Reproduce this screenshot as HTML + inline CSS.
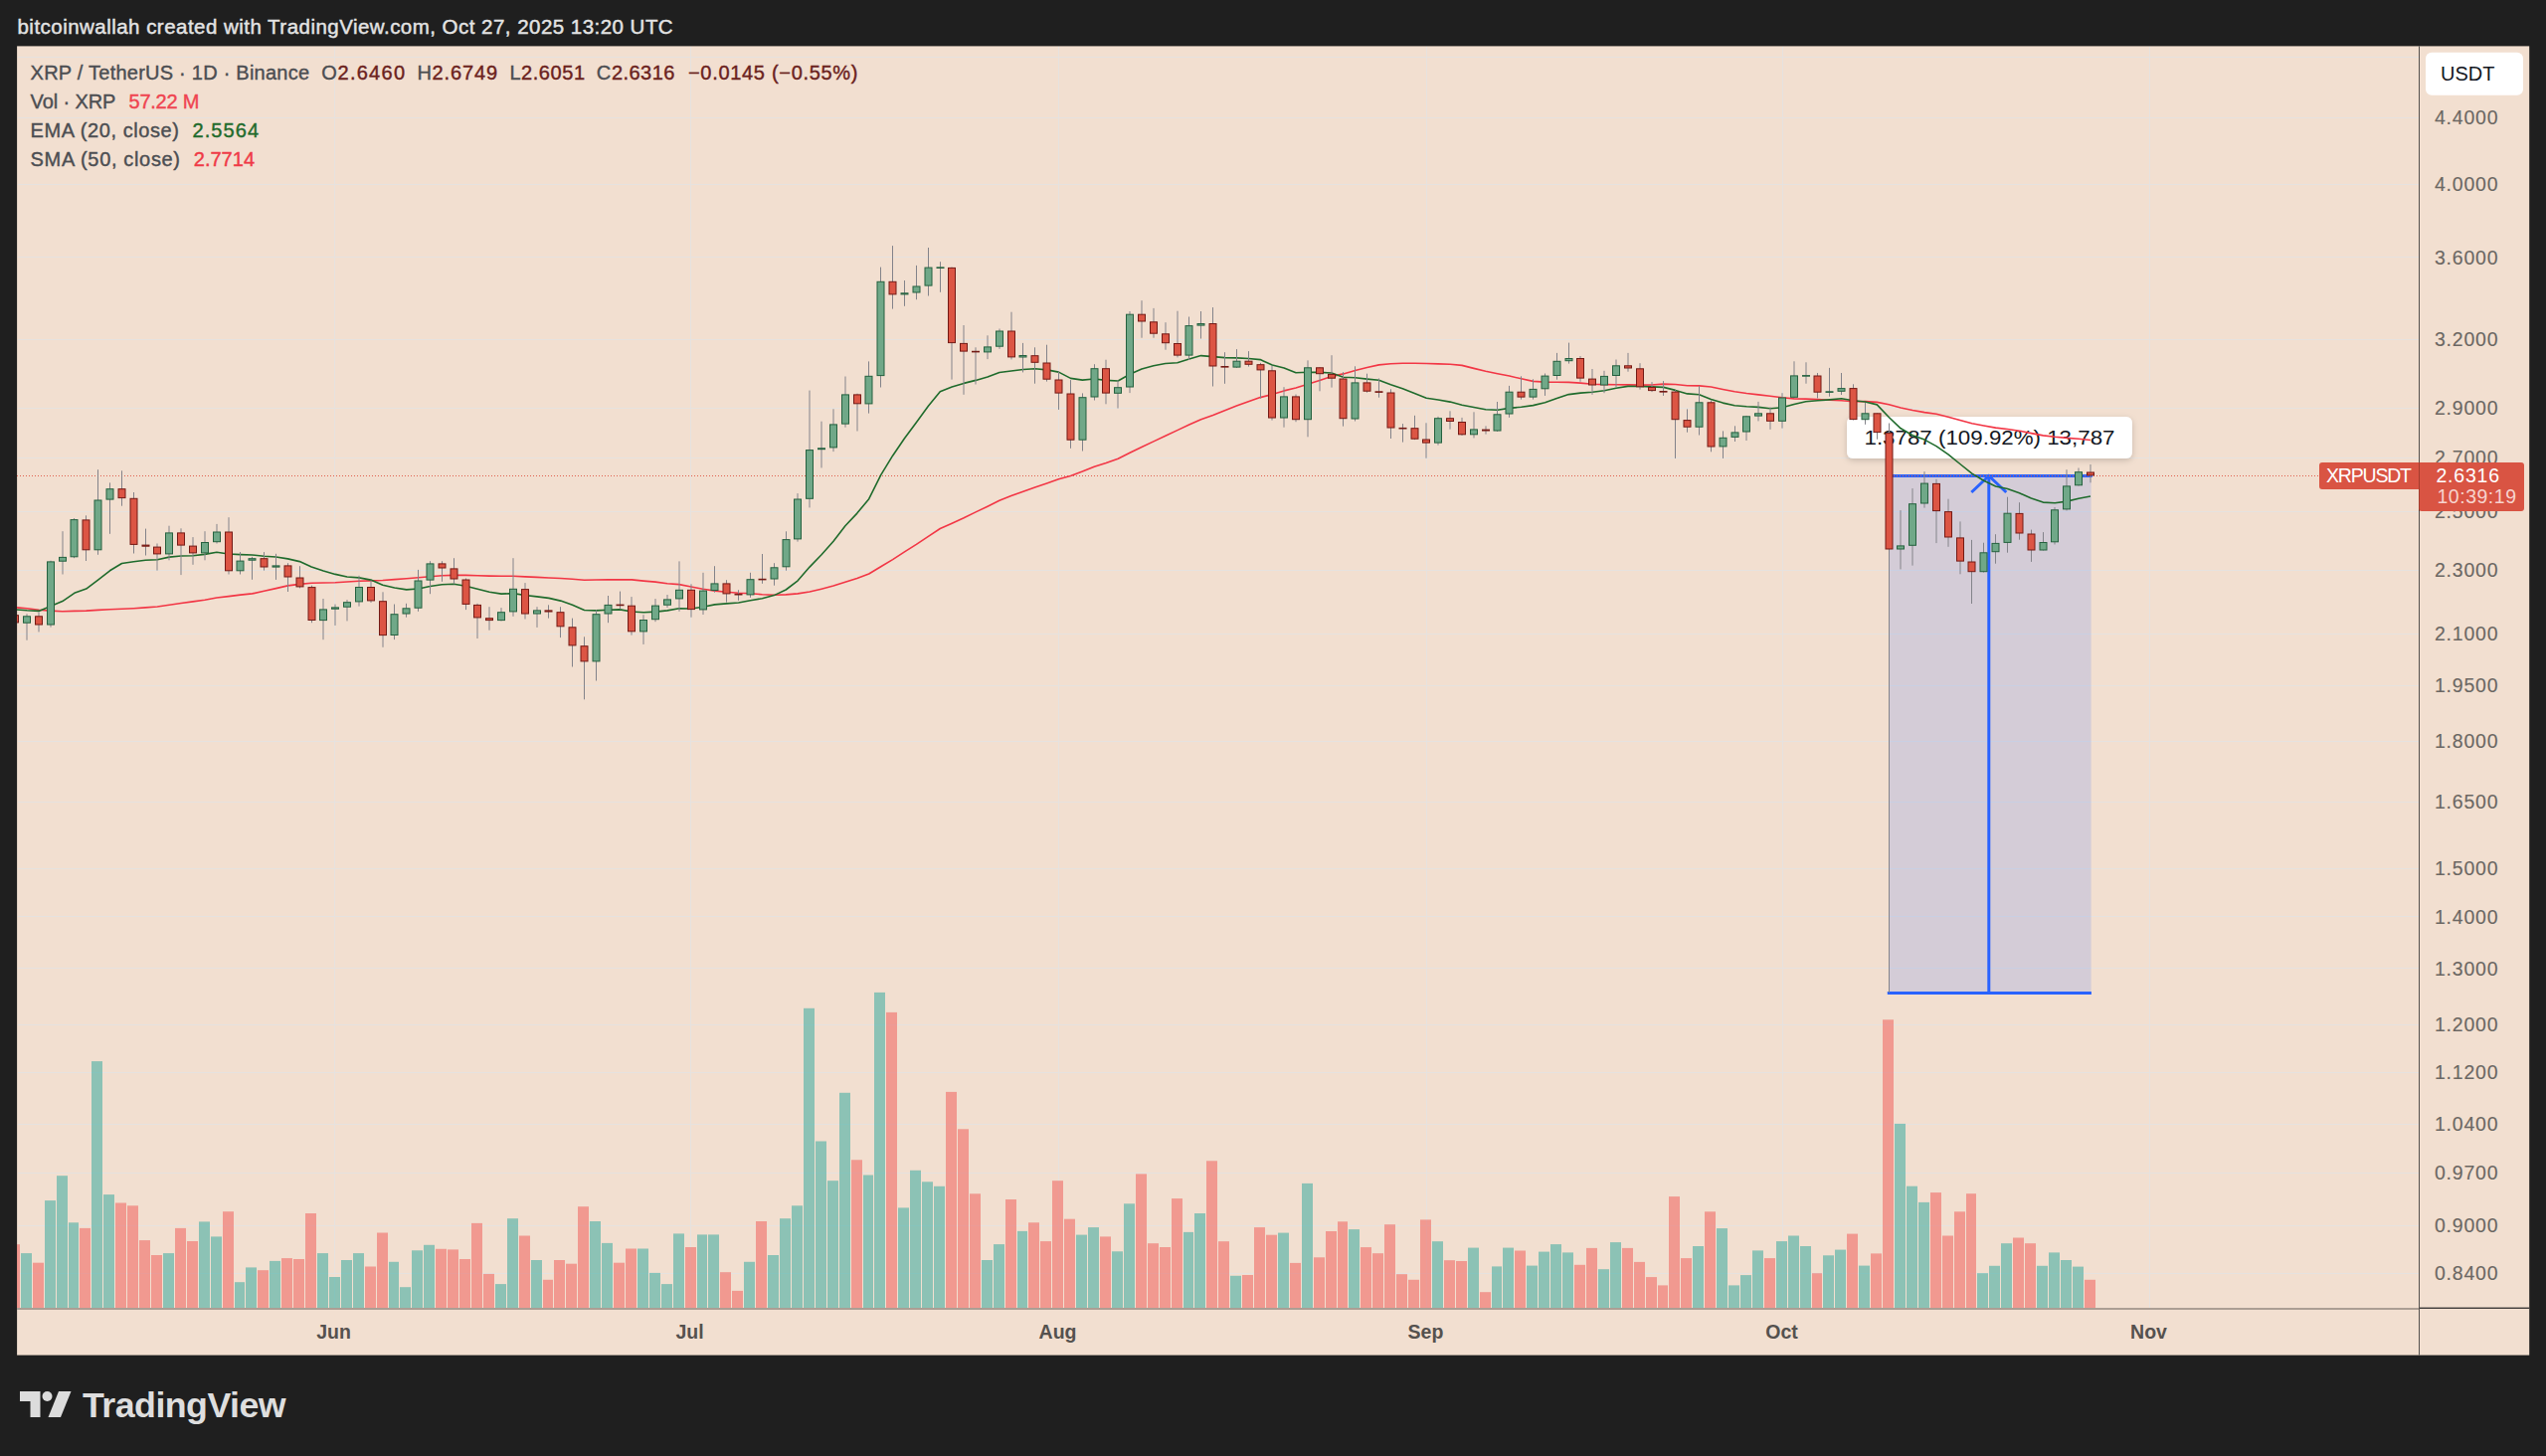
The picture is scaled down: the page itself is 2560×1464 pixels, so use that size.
<!DOCTYPE html>
<html><head><meta charset="utf-8"><title>XRP chart</title>
<style>
html,body{margin:0;padding:0;background:#1f1f1f;}
body{width:2560px;height:1464px;position:relative;overflow:hidden;font-family:"Liberation Sans",sans-serif;}
.hdr{position:absolute;left:17.5px;top:14px;font-size:20.5px;line-height:26px;color:#e3e3e3;white-space:nowrap;letter-spacing:0.47px;-webkit-text-stroke:0.45px #e3e3e3;}
.chart{position:absolute;left:17px;top:45px;}
.logo{position:absolute;left:20px;top:1399px;}
.brand{position:absolute;left:83px;top:1391px;font-size:35.8px;line-height:44px;font-weight:bold;color:#dedede;white-space:nowrap;letter-spacing:-0.55px;}
</style></head><body>
<div class="hdr">bitcoinwallah created with TradingView.com, Oct 27, 2025 13:20 UTC</div>
<svg class="chart" width="2527" height="1318" viewBox="17 45 2527 1318">
<defs><clipPath id="cp"><rect x="17.1" y="46" width="2414.9" height="1269"/></clipPath></defs>
<rect x="17.1" y="46.4" width="2526.1" height="1316.2" fill="#f2dfd0"/>
<g fill="#e6e2df" shape-rendering="crispEdges"><rect x="18" y="118" width="2414" height="1"/><rect x="18" y="185" width="2414" height="1"/><rect x="18" y="258" width="2414" height="1"/><rect x="18" y="341" width="2414" height="1"/><rect x="18" y="410" width="2414" height="1"/><rect x="18" y="460" width="2414" height="1"/><rect x="18" y="514" width="2414" height="1"/><rect x="18" y="573" width="2414" height="1"/><rect x="18" y="637" width="2414" height="1"/><rect x="18" y="689" width="2414" height="1"/><rect x="18" y="745" width="2414" height="1"/><rect x="18" y="806" width="2414" height="1"/><rect x="18" y="873" width="2414" height="1"/><rect x="18" y="921" width="2414" height="1"/><rect x="18" y="973" width="2414" height="1"/><rect x="18" y="1030" width="2414" height="1"/><rect x="18" y="1078" width="2414" height="1"/><rect x="18" y="1130" width="2414" height="1"/><rect x="18" y="1179" width="2414" height="1"/><rect x="18" y="1232" width="2414" height="1"/><rect x="18" y="1280" width="2414" height="1"/><rect x="336" y="47" width="1" height="1268"/><rect x="694" y="47" width="1" height="1268"/><rect x="1064" y="47" width="1" height="1268"/><rect x="1434" y="47" width="1" height="1268"/><rect x="1792" y="47" width="1" height="1268"/><rect x="2161" y="47" width="1" height="1268"/><rect x="18" y="57" width="2414" height="1"/></g>
<g clip-path="url(#cp)">
<g fill="#26a69a" fill-opacity="0.5"><rect x="21" y="1260.1" width="11" height="54.9"/><rect x="45" y="1207.1" width="11" height="107.9"/><rect x="57" y="1182.2" width="11" height="132.8"/><rect x="69" y="1229.3" width="10" height="85.7"/><rect x="92" y="1067.1" width="11" height="247.9"/><rect x="104" y="1201.1" width="11" height="113.9"/><rect x="164" y="1260.1" width="11" height="54.9"/><rect x="200" y="1228.4" width="11" height="86.6"/><rect x="212" y="1243.4" width="11" height="71.6"/><rect x="236" y="1289.2" width="10" height="25.8"/><rect x="247" y="1274.4" width="11" height="40.6"/><rect x="271" y="1267.9" width="11" height="47.1"/><rect x="319" y="1260.1" width="11" height="54.9"/><rect x="331" y="1284.0" width="11" height="31.0"/><rect x="343" y="1267.0" width="11" height="48.0"/><rect x="355" y="1260.1" width="11" height="54.9"/><rect x="391" y="1268.8" width="10" height="46.2"/><rect x="402" y="1294.2" width="11" height="20.8"/><rect x="414" y="1257.3" width="11" height="57.7"/><rect x="426" y="1251.8" width="11" height="63.2"/><rect x="498" y="1291.1" width="11" height="23.9"/><rect x="510" y="1225.2" width="11" height="89.8"/><rect x="534" y="1267.0" width="11" height="48.0"/><rect x="593" y="1228.0" width="11" height="87.0"/><rect x="605" y="1249.9" width="11" height="65.1"/><rect x="641" y="1255.5" width="11" height="59.5"/><rect x="653" y="1279.9" width="11" height="35.1"/><rect x="665" y="1291.1" width="11" height="23.9"/><rect x="677" y="1240.4" width="11" height="74.6"/><rect x="701" y="1241.4" width="10" height="73.6"/><rect x="712" y="1241.4" width="11" height="73.6"/><rect x="748" y="1268.8" width="11" height="46.2"/><rect x="772" y="1262.0" width="11" height="53.0"/><rect x="784" y="1225.2" width="11" height="89.8"/><rect x="796" y="1212.3" width="11" height="102.7"/><rect x="808" y="1013.8" width="11" height="301.2"/><rect x="820" y="1147.5" width="11" height="167.5"/><rect x="832" y="1187.2" width="11" height="127.8"/><rect x="844" y="1098.8" width="11" height="216.2"/><rect x="868" y="1181.5" width="10" height="133.5"/><rect x="879" y="997.9" width="11" height="317.1"/><rect x="903" y="1214.4" width="11" height="100.6"/><rect x="915" y="1176.8" width="11" height="138.2"/><rect x="927" y="1188.3" width="11" height="126.7"/><rect x="939" y="1192.8" width="11" height="122.2"/><rect x="987" y="1267.0" width="11" height="48.0"/><rect x="999" y="1251.1" width="11" height="63.9"/><rect x="1023" y="1237.9" width="10" height="77.1"/><rect x="1082" y="1241.6" width="11" height="73.4"/><rect x="1094" y="1234.1" width="11" height="80.9"/><rect x="1118" y="1258.3" width="11" height="56.7"/><rect x="1130" y="1210.3" width="11" height="104.7"/><rect x="1190" y="1238.9" width="10" height="76.1"/><rect x="1201" y="1220.0" width="11" height="95.0"/><rect x="1237" y="1282.8" width="11" height="32.2"/><rect x="1285" y="1239.6" width="11" height="75.4"/><rect x="1309" y="1189.9" width="11" height="125.1"/><rect x="1356" y="1236.1" width="11" height="78.9"/><rect x="1440" y="1248.2" width="11" height="66.8"/><rect x="1476" y="1254.6" width="11" height="60.4"/><rect x="1500" y="1273.4" width="10" height="41.6"/><rect x="1511" y="1254.6" width="11" height="60.4"/><rect x="1535" y="1272.6" width="11" height="42.4"/><rect x="1547" y="1258.6" width="11" height="56.4"/><rect x="1559" y="1251.1" width="11" height="63.9"/><rect x="1571" y="1259.4" width="11" height="55.6"/><rect x="1607" y="1276.2" width="11" height="38.8"/><rect x="1619" y="1249.1" width="11" height="65.9"/><rect x="1702" y="1253.0" width="11" height="62.0"/><rect x="1726" y="1235.1" width="11" height="79.9"/><rect x="1738" y="1292.4" width="11" height="22.6"/><rect x="1750" y="1282.1" width="11" height="32.9"/><rect x="1762" y="1257.4" width="11" height="57.6"/><rect x="1786" y="1248.1" width="11" height="66.9"/><rect x="1798" y="1242.5" width="11" height="72.5"/><rect x="1810" y="1253.0" width="11" height="62.0"/><rect x="1833" y="1262.3" width="11" height="52.7"/><rect x="1845" y="1256.6" width="11" height="58.4"/><rect x="1869" y="1272.6" width="11" height="42.4"/><rect x="1905" y="1129.9" width="11" height="185.1"/><rect x="1917" y="1192.7" width="11" height="122.3"/><rect x="1929" y="1208.9" width="11" height="106.1"/><rect x="1988" y="1280.2" width="11" height="34.8"/><rect x="2000" y="1272.8" width="11" height="42.2"/><rect x="2012" y="1250.2" width="11" height="64.8"/><rect x="2048" y="1272.8" width="11" height="42.2"/><rect x="2060" y="1259.4" width="11" height="55.6"/><rect x="2072" y="1267.0" width="11" height="48.0"/><rect x="2084" y="1273.6" width="11" height="41.4"/></g>
<g fill="#ef5350" fill-opacity="0.5"><rect x="9" y="1251.2" width="11" height="63.8"/><rect x="33" y="1269.7" width="11" height="45.3"/><rect x="80" y="1234.9" width="11" height="80.1"/><rect x="116" y="1209.5" width="11" height="105.5"/><rect x="128" y="1212.3" width="11" height="102.7"/><rect x="140" y="1247.1" width="11" height="67.9"/><rect x="152" y="1262.0" width="11" height="53.0"/><rect x="176" y="1234.9" width="11" height="80.1"/><rect x="188" y="1248.0" width="11" height="67.0"/><rect x="224" y="1218.2" width="11" height="96.8"/><rect x="259" y="1277.2" width="11" height="37.8"/><rect x="283" y="1265.1" width="11" height="49.9"/><rect x="295" y="1266.0" width="11" height="49.0"/><rect x="307" y="1220.0" width="11" height="95.0"/><rect x="367" y="1273.5" width="11" height="41.5"/><rect x="379" y="1239.5" width="11" height="75.5"/><rect x="438" y="1255.8" width="11" height="59.2"/><rect x="450" y="1256.4" width="11" height="58.6"/><rect x="462" y="1266.0" width="11" height="49.0"/><rect x="474" y="1229.9" width="11" height="85.1"/><rect x="486" y="1280.9" width="11" height="34.1"/><rect x="522" y="1242.5" width="11" height="72.5"/><rect x="546" y="1286.8" width="10" height="28.2"/><rect x="557" y="1267.0" width="11" height="48.0"/><rect x="569" y="1270.7" width="11" height="44.3"/><rect x="581" y="1213.2" width="11" height="101.8"/><rect x="617" y="1269.7" width="11" height="45.3"/><rect x="629" y="1255.5" width="11" height="59.5"/><rect x="689" y="1254.0" width="11" height="61.0"/><rect x="724" y="1279.2" width="11" height="35.8"/><rect x="736" y="1297.9" width="11" height="17.1"/><rect x="760" y="1228.0" width="11" height="87.0"/><rect x="856" y="1166.3" width="11" height="148.7"/><rect x="891" y="1017.9" width="11" height="297.1"/><rect x="951" y="1097.9" width="11" height="217.1"/><rect x="963" y="1135.3" width="11" height="179.7"/><rect x="975" y="1200.3" width="11" height="114.7"/><rect x="1011" y="1206.0" width="11" height="109.0"/><rect x="1034" y="1229.3" width="11" height="85.7"/><rect x="1046" y="1248.1" width="11" height="66.9"/><rect x="1058" y="1187.2" width="11" height="127.8"/><rect x="1070" y="1225.7" width="11" height="89.3"/><rect x="1106" y="1243.4" width="11" height="71.6"/><rect x="1142" y="1180.4" width="11" height="134.6"/><rect x="1154" y="1250.2" width="11" height="64.8"/><rect x="1166" y="1254.0" width="11" height="61.0"/><rect x="1178" y="1205.1" width="11" height="109.9"/><rect x="1213" y="1167.3" width="11" height="147.7"/><rect x="1225" y="1248.2" width="11" height="66.8"/><rect x="1249" y="1282.0" width="11" height="33.0"/><rect x="1261" y="1234.1" width="11" height="80.9"/><rect x="1273" y="1241.7" width="11" height="73.3"/><rect x="1297" y="1269.9" width="11" height="45.1"/><rect x="1321" y="1264.3" width="11" height="50.7"/><rect x="1333" y="1238.0" width="11" height="77.0"/><rect x="1345" y="1228.3" width="10" height="86.7"/><rect x="1368" y="1254.1" width="11" height="60.9"/><rect x="1380" y="1260.2" width="11" height="54.8"/><rect x="1392" y="1231.2" width="11" height="83.8"/><rect x="1404" y="1281.2" width="11" height="33.8"/><rect x="1416" y="1286.8" width="11" height="28.2"/><rect x="1428" y="1226.4" width="11" height="88.6"/><rect x="1452" y="1267.2" width="11" height="47.8"/><rect x="1464" y="1268.0" width="11" height="47.0"/><rect x="1488" y="1299.2" width="11" height="15.8"/><rect x="1523" y="1257.5" width="11" height="57.5"/><rect x="1583" y="1271.8" width="11" height="43.2"/><rect x="1595" y="1254.9" width="11" height="60.1"/><rect x="1631" y="1254.9" width="11" height="60.1"/><rect x="1643" y="1268.9" width="11" height="46.1"/><rect x="1655" y="1284.1" width="11" height="30.9"/><rect x="1667" y="1292.4" width="10" height="22.6"/><rect x="1678" y="1203.1" width="11" height="111.9"/><rect x="1690" y="1265.1" width="11" height="49.9"/><rect x="1714" y="1218.3" width="11" height="96.7"/><rect x="1774" y="1265.1" width="11" height="49.9"/><rect x="1822" y="1280.2" width="10" height="34.8"/><rect x="1857" y="1240.6" width="11" height="74.4"/><rect x="1881" y="1260.4" width="11" height="54.6"/><rect x="1893" y="1025.3" width="11" height="289.7"/><rect x="1941" y="1199.1" width="11" height="115.9"/><rect x="1953" y="1242.5" width="11" height="72.5"/><rect x="1965" y="1218.3" width="11" height="96.7"/><rect x="1977" y="1200.2" width="10" height="114.8"/><rect x="2024" y="1244.5" width="11" height="70.5"/><rect x="2036" y="1250.2" width="11" height="64.8"/><rect x="2096" y="1286.8" width="11" height="28.2"/></g>
<rect x="1899.6" y="478.5" width="203.0" height="520.0" fill="rgba(41,98,255,0.15)"/>
<g stroke="#2962ff" stroke-width="3" fill="none" stroke-linecap="round"><line x1="1899.6" y1="478.5" x2="2102.6" y2="478.5"/><line x1="1897.8" y1="998.5" x2="2102.9" y2="998.5" stroke-linecap="butt"/><line x1="1999.8" y1="479.5" x2="1999.8" y2="998.5" stroke-linecap="butt"/><polyline points="1982.3,495.0 1999.8,478.5 2017.3,495.0" stroke-linecap="butt"/></g>
<line x1="17" y1="478.5" x2="2432" y2="478.5" stroke="#e0604f" stroke-width="1" stroke-dasharray="1 2"/>
<filter id="sh" x="-10%" y="-30%" width="120%" height="180%"><feDropShadow dx="0" dy="2" stdDeviation="3" flood-color="#000" flood-opacity="0.18"/></filter>
<rect x="1857" y="419" width="287" height="42" rx="6" fill="#fff" filter="url(#sh)"/>
<text x="2000.5" y="446.8" text-anchor="middle" font-family="Liberation Sans, sans-serif" font-size="19.5" fill="#131722" textLength="252" lengthAdjust="spacingAndGlyphs">1.3787 (109.92%) 13,787</text>
<polyline points="15.1,610.7 27.1,611.8 39.0,613.2 50.9,614.1 62.8,614.8 74.8,614.4 86.7,614.1 98.6,613.4 110.5,612.8 122.5,612.3 134.4,611.7 146.3,610.9 158.2,610.0 170.2,608.3 182.1,606.5 194.0,604.9 205.9,603.3 217.9,601.0 229.8,599.6 241.7,598.1 253.6,596.9 265.6,594.2 277.5,591.6 289.4,588.9 301.3,587.4 313.2,586.3 325.2,586.0 337.1,585.7 349.0,585.0 361.0,584.3 372.9,583.9 384.8,583.5 396.7,582.6 408.7,581.8 420.6,580.8 432.5,579.8 444.4,578.8 456.4,578.4 468.3,578.4 480.2,578.8 492.1,579.1 504.1,579.2 516.0,579.3 527.9,579.9 539.8,580.4 551.8,581.0 563.7,581.5 575.6,582.3 587.5,583.2 599.5,583.0 611.4,582.9 623.3,582.7 635.2,582.9 647.2,584.1 659.1,585.1 671.0,586.8 682.9,587.6 694.9,590.0 706.8,592.2 718.7,594.1 730.6,595.2 742.6,596.2 754.5,596.7 766.4,597.7 778.3,598.2 790.2,597.9 802.2,596.9 814.1,595.0 826.0,592.2 838.0,589.1 849.9,585.2 861.8,581.5 873.7,577.0 885.7,569.7 897.6,562.6 909.5,554.9 921.4,547.4 933.4,539.4 945.3,531.5 957.2,526.2 969.1,520.8 981.1,514.9 993.0,509.2 1004.9,503.3 1016.8,498.6 1028.8,494.2 1040.7,489.9 1052.6,485.9 1064.5,481.7 1076.5,478.4 1088.4,474.1 1100.3,469.3 1112.2,465.5 1124.2,461.2 1136.1,455.2 1148.0,449.5 1159.9,443.9 1171.8,438.2 1183.8,432.6 1195.7,427.1 1207.6,421.8 1219.6,417.4 1231.5,412.7 1243.4,408.0 1255.3,403.7 1267.2,399.6 1279.2,396.6 1291.1,392.9 1303.0,390.0 1315.0,386.2 1326.9,382.4 1338.8,378.6 1350.7,375.9 1362.7,372.5 1374.6,369.5 1386.5,366.9 1398.4,365.7 1410.3,365.3 1422.3,365.2 1434.2,365.5 1446.1,365.9 1458.1,366.3 1470.0,367.4 1481.9,370.4 1493.8,373.2 1505.8,375.7 1517.7,378.0 1529.6,380.8 1541.5,383.4 1553.5,384.1 1565.4,384.3 1577.3,384.4 1589.2,385.1 1601.2,386.2 1613.1,386.6 1625.0,386.8 1636.9,386.9 1648.8,387.1 1660.8,387.0 1672.7,386.1 1684.6,386.5 1696.6,387.7 1708.5,387.9 1720.4,389.0 1732.3,391.5 1744.2,393.8 1756.2,395.5 1768.1,396.9 1780.0,398.3 1792.0,399.8 1803.9,400.9 1815.8,401.1 1827.7,401.6 1839.7,402.3 1851.6,402.7 1863.5,403.7 1875.4,403.6 1887.3,404.4 1899.3,406.7 1911.2,410.0 1923.1,412.5 1935.1,414.6 1947.0,416.3 1958.9,419.2 1970.8,422.4 1982.8,425.7 1994.7,428.0 2006.6,430.1 2018.5,431.5 2030.5,433.2 2042.4,435.6 2054.3,437.9 2066.2,439.3 2078.2,440.4 2090.1,441.2 2102.0,442.5" fill="none" stroke="#f23645" stroke-width="1.6" stroke-linejoin="round"/>
<polyline points="15.1,612.8 27.1,613.8 39.0,614.4 50.9,609.5 62.8,604.6 74.8,596.3 86.7,592.1 98.6,583.1 110.5,573.8 122.5,566.5 134.4,564.7 146.3,563.3 158.2,562.7 170.2,560.1 182.1,559.0 194.0,558.7 205.9,557.4 217.9,555.2 229.8,557.0 241.7,557.6 253.6,558.0 265.6,559.2 277.5,560.0 289.4,561.9 301.3,564.6 313.2,570.1 325.2,574.0 337.1,577.4 349.0,580.0 361.0,580.9 372.9,583.1 384.8,588.3 396.7,591.0 408.7,592.9 420.6,592.0 432.5,589.5 444.4,587.8 456.4,587.3 468.3,589.2 480.2,592.2 492.1,595.2 504.1,597.1 516.0,596.6 527.9,598.5 539.8,599.9 551.8,601.4 563.7,604.1 575.6,608.3 587.5,613.5 599.5,613.9 611.4,613.3 623.3,612.9 635.2,615.0 647.2,615.8 659.1,615.1 671.0,613.9 682.9,611.8 694.9,612.0 706.8,610.2 718.7,607.9 730.6,606.9 742.6,606.0 754.5,603.7 766.4,601.7 778.3,598.6 790.2,593.0 802.2,583.8 814.1,570.1 826.0,557.8 838.0,544.2 849.9,528.7 861.8,516.1 873.7,501.7 885.7,477.6 897.6,458.2 909.5,440.8 921.4,424.7 933.4,408.2 945.3,393.7 957.2,388.9 969.1,385.4 981.1,382.4 993.0,379.1 1004.9,374.5 1016.8,373.0 1028.8,371.5 1040.7,370.8 1052.6,371.9 1064.5,374.1 1076.5,380.4 1088.4,382.1 1100.3,381.0 1112.2,382.4 1124.2,383.0 1136.1,376.3 1148.0,371.1 1159.9,367.7 1171.8,365.5 1183.8,364.7 1195.7,361.1 1207.6,357.6 1219.6,358.6 1231.5,359.6 1243.4,359.9 1255.3,360.5 1267.2,361.6 1279.2,367.0 1291.1,370.0 1303.0,374.8 1315.0,374.2 1326.9,374.4 1338.8,375.0 1350.7,379.3 1362.7,379.8 1374.6,381.1 1386.5,382.3 1398.4,386.8 1410.3,390.8 1422.3,395.5 1434.2,400.2 1446.1,402.0 1458.1,404.1 1470.0,407.2 1481.9,409.5 1493.8,411.7 1505.8,412.2 1517.7,410.4 1529.6,409.3 1541.5,407.6 1553.5,404.7 1565.4,400.6 1577.3,396.6 1589.2,395.1 1601.2,394.3 1613.1,392.7 1625.0,390.3 1636.9,388.4 1648.8,388.5 1660.8,388.9 1672.7,389.4 1684.6,392.4 1696.6,395.9 1708.5,396.7 1720.4,401.6 1732.3,405.1 1744.2,407.8 1756.2,408.8 1768.1,409.4 1780.0,410.8 1792.0,409.7 1803.9,406.6 1815.8,403.7 1827.7,402.8 1839.7,401.9 1851.6,400.8 1863.5,402.8 1875.4,404.0 1887.3,406.9 1899.3,419.5 1911.2,430.8 1923.1,437.7 1935.1,442.1 1947.0,448.6 1958.9,456.9 1970.8,466.5 1982.8,476.1 1994.7,483.3 2006.6,489.0 2018.5,491.5 2030.5,495.7 2042.4,501.0 2054.3,505.1 2066.2,505.7 2078.2,504.1 2090.1,501.2 2102.0,499.0" fill="none" stroke="#1f6b2c" stroke-width="1.6" stroke-linejoin="round"/>
<g fill="#83838a"><rect x="14.5" y="616.9" width="1" height="11.7"/><rect x="26.5" y="617.3" width="1" height="26.4"/><rect x="38.5" y="615.5" width="1" height="19.9"/><rect x="50.5" y="563.7" width="1" height="66.9"/><rect x="62.5" y="534.2" width="1" height="43.3"/><rect x="74.0" y="521.1" width="1" height="40.1"/><rect x="86.0" y="518.3" width="1" height="45.7"/><rect x="98.0" y="472.2" width="1" height="85.6"/><rect x="110.0" y="485.4" width="1" height="51.4"/><rect x="122.0" y="473.3" width="1" height="35.4"/><rect x="134.0" y="495.0" width="1" height="61.5"/><rect x="146.0" y="531.6" width="1" height="26.9"/><rect x="157.5" y="546.5" width="1" height="27.1"/><rect x="169.5" y="528.7" width="1" height="34.6"/><rect x="181.5" y="531.3" width="1" height="46.8"/><rect x="193.5" y="540.1" width="1" height="27.7"/><rect x="205.5" y="534.2" width="1" height="29.1"/><rect x="217.5" y="526.9" width="1" height="19.6"/><rect x="229.5" y="520.2" width="1" height="57.3"/><rect x="241.0" y="555.1" width="1" height="22.4"/><rect x="253.0" y="559.9" width="1" height="22.9"/><rect x="265.0" y="555.1" width="1" height="18.5"/><rect x="277.0" y="556.8" width="1" height="26.1"/><rect x="289.0" y="566.2" width="1" height="28.8"/><rect x="301.0" y="569.2" width="1" height="22.2"/><rect x="313.0" y="588.7" width="1" height="37.5"/><rect x="324.5" y="602.0" width="1" height="41.2"/><rect x="336.5" y="607.6" width="1" height="21.3"/><rect x="348.5" y="603.1" width="1" height="21.3"/><rect x="360.5" y="578.8" width="1" height="30.8"/><rect x="372.5" y="583.5" width="1" height="22.4"/><rect x="384.5" y="595.3" width="1" height="55.5"/><rect x="396.0" y="607.5" width="1" height="35.6"/><rect x="408.0" y="606.8" width="1" height="13.9"/><rect x="420.0" y="572.9" width="1" height="41.9"/><rect x="432.0" y="564.2" width="1" height="33.0"/><rect x="444.0" y="564.2" width="1" height="20.6"/><rect x="456.0" y="561.2" width="1" height="26.1"/><rect x="468.0" y="581.5" width="1" height="31.6"/><rect x="479.5" y="606.8" width="1" height="35.2"/><rect x="491.5" y="610.2" width="1" height="23.5"/><rect x="503.5" y="611.1" width="1" height="13.3"/><rect x="515.5" y="561.2" width="1" height="58.6"/><rect x="527.5" y="586.1" width="1" height="36.4"/><rect x="539.5" y="610.2" width="1" height="20.7"/><rect x="551.0" y="608.3" width="1" height="13.3"/><rect x="563.0" y="610.2" width="1" height="30.9"/><rect x="575.0" y="621.6" width="1" height="48.9"/><rect x="587.0" y="640.3" width="1" height="63.0"/><rect x="599.0" y="613.4" width="1" height="71.1"/><rect x="611.0" y="599.0" width="1" height="27.2"/><rect x="623.0" y="594.6" width="1" height="17.9"/><rect x="634.5" y="600.1" width="1" height="38.5"/><rect x="646.5" y="618.2" width="1" height="29.7"/><rect x="658.5" y="602.1" width="1" height="23.1"/><rect x="670.5" y="598.0" width="1" height="13.0"/><rect x="682.5" y="564.4" width="1" height="50.4"/><rect x="694.5" y="587.3" width="1" height="33.4"/><rect x="706.5" y="575.8" width="1" height="42.2"/><rect x="718.0" y="569.2" width="1" height="26.5"/><rect x="730.0" y="583.2" width="1" height="22.4"/><rect x="742.0" y="593.2" width="1" height="10.6"/><rect x="754.0" y="575.8" width="1" height="25.0"/><rect x="766.0" y="557.0" width="1" height="29.8"/><rect x="778.0" y="566.2" width="1" height="22.5"/><rect x="790.0" y="534.3" width="1" height="39.4"/><rect x="801.5" y="496.1" width="1" height="48.5"/><rect x="813.5" y="392.6" width="1" height="117.8"/><rect x="825.5" y="423.7" width="1" height="46.7"/><rect x="837.5" y="411.3" width="1" height="42.8"/><rect x="849.5" y="378.5" width="1" height="51.2"/><rect x="861.5" y="395.7" width="1" height="37.8"/><rect x="873.0" y="363.4" width="1" height="52.2"/><rect x="885.0" y="268.6" width="1" height="120.9"/><rect x="897.0" y="247.1" width="1" height="63.5"/><rect x="909.0" y="282.0" width="1" height="25.8"/><rect x="921.0" y="266.9" width="1" height="34.3"/><rect x="933.0" y="249.0" width="1" height="48.5"/><rect x="945.0" y="263.2" width="1" height="30.6"/><rect x="956.5" y="268.6" width="1" height="113.0"/><rect x="968.5" y="327.0" width="1" height="69.8"/><rect x="980.5" y="349.3" width="1" height="37.2"/><rect x="992.5" y="337.3" width="1" height="23.8"/><rect x="1004.5" y="330.5" width="1" height="20.3"/><rect x="1016.5" y="313.7" width="1" height="47.7"/><rect x="1028.0" y="344.9" width="1" height="29.5"/><rect x="1040.0" y="349.3" width="1" height="36.4"/><rect x="1052.0" y="346.7" width="1" height="36.9"/><rect x="1064.0" y="373.4" width="1" height="38.5"/><rect x="1076.0" y="382.1" width="1" height="68.7"/><rect x="1088.0" y="395.4" width="1" height="58.1"/><rect x="1100.0" y="366.2" width="1" height="36.3"/><rect x="1111.5" y="361.7" width="1" height="44.6"/><rect x="1123.5" y="382.3" width="1" height="28.2"/><rect x="1135.5" y="313.0" width="1" height="82.1"/><rect x="1147.5" y="302.2" width="1" height="37.5"/><rect x="1159.5" y="309.9" width="1" height="29.8"/><rect x="1171.5" y="324.2" width="1" height="27.5"/><rect x="1183.5" y="312.7" width="1" height="46.7"/><rect x="1195.0" y="318.5" width="1" height="43.5"/><rect x="1207.0" y="313.0" width="1" height="27.5"/><rect x="1219.0" y="309.1" width="1" height="79.4"/><rect x="1231.0" y="354.2" width="1" height="31.6"/><rect x="1243.0" y="351.1" width="1" height="18.8"/><rect x="1255.0" y="353.1" width="1" height="15.5"/><rect x="1267.0" y="364.9" width="1" height="35.7"/><rect x="1278.5" y="367.9" width="1" height="54.7"/><rect x="1290.5" y="389.2" width="1" height="40.5"/><rect x="1302.5" y="396.5" width="1" height="27.7"/><rect x="1314.5" y="362.4" width="1" height="76.9"/><rect x="1326.5" y="369.3" width="1" height="24.0"/><rect x="1338.5" y="357.2" width="1" height="32.4"/><rect x="1350.0" y="374.1" width="1" height="54.5"/><rect x="1362.0" y="368.3" width="1" height="55.2"/><rect x="1374.0" y="375.7" width="1" height="19.0"/><rect x="1386.0" y="380.5" width="1" height="19.2"/><rect x="1398.0" y="391.3" width="1" height="49.7"/><rect x="1410.0" y="426.1" width="1" height="18.5"/><rect x="1422.0" y="417.8" width="1" height="24.3"/><rect x="1433.5" y="425.3" width="1" height="35.4"/><rect x="1445.5" y="418.8" width="1" height="28.8"/><rect x="1457.5" y="413.3" width="1" height="18.3"/><rect x="1469.5" y="419.9" width="1" height="18.1"/><rect x="1481.5" y="414.3" width="1" height="26.1"/><rect x="1493.5" y="428.4" width="1" height="8.2"/><rect x="1505.0" y="404.0" width="1" height="29.9"/><rect x="1517.0" y="387.9" width="1" height="31.9"/><rect x="1529.0" y="378.3" width="1" height="23.3"/><rect x="1541.0" y="381.3" width="1" height="20.3"/><rect x="1553.0" y="375.5" width="1" height="22.4"/><rect x="1565.0" y="354.9" width="1" height="26.8"/><rect x="1577.0" y="344.6" width="1" height="21.0"/><rect x="1588.5" y="358.0" width="1" height="25.8"/><rect x="1600.5" y="371.0" width="1" height="25.8"/><rect x="1612.5" y="372.8" width="1" height="22.4"/><rect x="1624.5" y="361.5" width="1" height="27.7"/><rect x="1636.5" y="354.9" width="1" height="18.8"/><rect x="1648.5" y="365.2" width="1" height="26.4"/><rect x="1660.5" y="384.1" width="1" height="10.0"/><rect x="1672.0" y="383.1" width="1" height="14.8"/><rect x="1684.0" y="392.2" width="1" height="68.7"/><rect x="1696.0" y="411.4" width="1" height="23.3"/><rect x="1708.0" y="388.1" width="1" height="49.4"/><rect x="1720.0" y="402.5" width="1" height="51.8"/><rect x="1732.0" y="433.4" width="1" height="27.5"/><rect x="1744.0" y="428.3" width="1" height="15.7"/><rect x="1755.5" y="417.9" width="1" height="25.1"/><rect x="1767.5" y="403.9" width="1" height="19.5"/><rect x="1779.5" y="409.4" width="1" height="22.4"/><rect x="1791.5" y="395.2" width="1" height="35.4"/><rect x="1803.5" y="363.3" width="1" height="37.1"/><rect x="1815.5" y="364.3" width="1" height="21.4"/><rect x="1827.0" y="375.0" width="1" height="25.4"/><rect x="1839.0" y="369.9" width="1" height="28.8"/><rect x="1851.0" y="375.0" width="1" height="22.0"/><rect x="1863.0" y="386.3" width="1" height="36.1"/><rect x="1875.0" y="405.0" width="1" height="21.8"/><rect x="1887.0" y="415.3" width="1" height="26.4"/><rect x="1899.0" y="425.5" width="1" height="572.7"/><rect x="1910.5" y="513.1" width="1" height="59.3"/><rect x="1922.5" y="491.1" width="1" height="77.5"/><rect x="1934.5" y="474.2" width="1" height="36.4"/><rect x="1946.5" y="481.8" width="1" height="64.3"/><rect x="1958.5" y="501.7" width="1" height="48.1"/><rect x="1970.5" y="524.4" width="1" height="52.9"/><rect x="1982.0" y="542.9" width="1" height="64.1"/><rect x="1994.0" y="545.7" width="1" height="29.8"/><rect x="2006.0" y="537.2" width="1" height="29.5"/><rect x="2018.0" y="499.7" width="1" height="56.0"/><rect x="2030.0" y="505.2" width="1" height="37.5"/><rect x="2042.0" y="532.6" width="1" height="32.3"/><rect x="2054.0" y="535.1" width="1" height="18.4"/><rect x="2065.5" y="510.0" width="1" height="37.5"/><rect x="2077.5" y="472.2" width="1" height="41.2"/><rect x="2089.5" y="470.5" width="1" height="18.1"/><rect x="2101.5" y="467.0" width="1" height="18.3"/></g>
<g fill="#70a888" stroke="#25613f" stroke-width="1"><rect x="23.5" y="619.8" width="7" height="6.4"/><rect x="47.5" y="564.9" width="7" height="63.1"/><rect x="59.5" y="560.4" width="7" height="3.8"/><rect x="71.0" y="522.6" width="7" height="37.2"/><rect x="95.0" y="503.0" width="7" height="49.8"/><rect x="107.0" y="491.7" width="7" height="10.4"/><rect x="166.5" y="535.9" width="7" height="21.0"/><rect x="202.5" y="545.5" width="7" height="10.4"/><rect x="214.5" y="535.0" width="7" height="9.7"/><rect x="238.0" y="564.1" width="7" height="9.7"/><rect x="250.0" y="561.7" width="7" height="1.5"/><rect x="274.0" y="568.9" width="7" height="1.2"/><rect x="321.5" y="612.9" width="7" height="10.7"/><rect x="333.5" y="610.9" width="7" height="1.3"/><rect x="345.5" y="605.7" width="7" height="4.5"/><rect x="357.5" y="590.5" width="7" height="14.4"/><rect x="393.0" y="617.7" width="7" height="20.8"/><rect x="405.0" y="611.8" width="7" height="5.2"/><rect x="417.0" y="584.0" width="7" height="27.2"/><rect x="429.0" y="566.9" width="7" height="16.2"/><rect x="500.5" y="615.7" width="7" height="7.9"/><rect x="512.5" y="592.3" width="7" height="22.6"/><rect x="536.5" y="613.9" width="7" height="3.1"/><rect x="596.0" y="617.7" width="7" height="47.2"/><rect x="608.0" y="608.4" width="7" height="8.6"/><rect x="643.5" y="623.5" width="7" height="11.4"/><rect x="655.5" y="609.1" width="7" height="13.6"/><rect x="667.5" y="602.9" width="7" height="5.3"/><rect x="679.5" y="593.3" width="7" height="8.6"/><rect x="703.5" y="594.1" width="7" height="18.8"/><rect x="715.0" y="586.9" width="7" height="6.6"/><rect x="751.0" y="582.7" width="7" height="15.2"/><rect x="775.0" y="570.8" width="7" height="11.2"/><rect x="787.0" y="542.6" width="7" height="27.2"/><rect x="798.5" y="502.0" width="7" height="39.9"/><rect x="810.5" y="452.6" width="7" height="48.7"/><rect x="822.5" y="450.8" width="7" height="0.9"/><rect x="834.5" y="426.9" width="7" height="23.0"/><rect x="846.5" y="396.9" width="7" height="29.2"/><rect x="870.0" y="378.3" width="7" height="27.6"/><rect x="882.0" y="283.3" width="7" height="94.3"/><rect x="906.0" y="294.8" width="7" height="1.1"/><rect x="918.0" y="288.0" width="7" height="6.0"/><rect x="930.0" y="269.1" width="7" height="18.0"/><rect x="942.0" y="268.9" width="7" height="0.6"/><rect x="989.5" y="348.9" width="7" height="5.0"/><rect x="1001.5" y="333.0" width="7" height="15.2"/><rect x="1025.0" y="357.5" width="7" height="1.5"/><rect x="1085.0" y="399.7" width="7" height="42.5"/><rect x="1097.0" y="370.7" width="7" height="28.3"/><rect x="1120.5" y="389.7" width="7" height="5.6"/><rect x="1132.5" y="316.2" width="7" height="72.8"/><rect x="1192.0" y="327.6" width="7" height="29.5"/><rect x="1204.0" y="325.5" width="7" height="1.6"/><rect x="1240.0" y="363.2" width="7" height="5.9"/><rect x="1287.5" y="398.9" width="7" height="21.1"/><rect x="1311.5" y="369.8" width="7" height="51.9"/><rect x="1359.0" y="384.9" width="7" height="36.1"/><rect x="1442.5" y="420.7" width="7" height="24.4"/><rect x="1478.5" y="431.9" width="7" height="4.9"/><rect x="1502.0" y="416.8" width="7" height="16.2"/><rect x="1514.0" y="394.2" width="7" height="21.8"/><rect x="1538.0" y="391.4" width="7" height="7.7"/><rect x="1550.0" y="378.1" width="7" height="12.7"/><rect x="1562.0" y="363.3" width="7" height="14.2"/><rect x="1574.0" y="360.5" width="7" height="2.2"/><rect x="1609.5" y="378.4" width="7" height="8.6"/><rect x="1621.5" y="367.8" width="7" height="9.7"/><rect x="1705.0" y="404.8" width="7" height="24.4"/><rect x="1729.0" y="440.3" width="7" height="8.6"/><rect x="1741.0" y="434.9" width="7" height="4.5"/><rect x="1752.5" y="418.8" width="7" height="15.2"/><rect x="1764.5" y="415.8" width="7" height="2.3"/><rect x="1788.5" y="400.0" width="7" height="23.3"/><rect x="1800.5" y="377.9" width="7" height="21.4"/><rect x="1812.5" y="377.6" width="7" height="0.6"/><rect x="1836.0" y="393.8" width="7" height="0.6"/><rect x="1848.0" y="390.6" width="7" height="2.7"/><rect x="1872.0" y="415.8" width="7" height="5.9"/><rect x="1907.5" y="548.9" width="7" height="3.1"/><rect x="1919.5" y="506.7" width="7" height="41.6"/><rect x="1931.5" y="486.1" width="7" height="19.9"/><rect x="1991.0" y="555.8" width="7" height="18.9"/><rect x="2003.0" y="546.4" width="7" height="8.3"/><rect x="2015.0" y="516.2" width="7" height="29.2"/><rect x="2051.0" y="545.5" width="7" height="7.5"/><rect x="2062.5" y="512.8" width="7" height="32.0"/><rect x="2074.5" y="488.9" width="7" height="23.0"/><rect x="2086.5" y="474.7" width="7" height="13.1"/></g>
<g fill="#dc5544" stroke="#741a15" stroke-width="1"><rect x="11.5" y="618.7" width="7" height="7.2"/><rect x="35.5" y="619.8" width="7" height="8.2"/><rect x="83.0" y="522.9" width="7" height="29.9"/><rect x="119.0" y="491.7" width="7" height="8.9"/><rect x="131.0" y="501.3" width="7" height="46.1"/><rect x="143.0" y="548.1" width="7" height="1.1"/><rect x="154.5" y="550.1" width="7" height="6.8"/><rect x="178.5" y="535.9" width="7" height="12.2"/><rect x="190.5" y="549.1" width="7" height="6.8"/><rect x="226.5" y="535.0" width="7" height="38.8"/><rect x="262.0" y="561.7" width="7" height="8.3"/><rect x="286.0" y="568.9" width="7" height="11.1"/><rect x="298.0" y="581.0" width="7" height="8.9"/><rect x="310.0" y="590.6" width="7" height="32.9"/><rect x="369.5" y="590.5" width="7" height="13.4"/><rect x="381.5" y="604.7" width="7" height="33.9"/><rect x="441.0" y="566.9" width="7" height="4.1"/><rect x="453.0" y="571.9" width="7" height="10.1"/><rect x="465.0" y="583.0" width="7" height="24.4"/><rect x="476.5" y="608.4" width="7" height="12.5"/><rect x="488.5" y="621.7" width="7" height="1.9"/><rect x="524.5" y="592.6" width="7" height="24.4"/><rect x="548.0" y="613.9" width="7" height="1.1"/><rect x="560.0" y="615.7" width="7" height="14.1"/><rect x="572.0" y="630.8" width="7" height="18.1"/><rect x="584.0" y="649.7" width="7" height="15.2"/><rect x="620.0" y="608.1" width="7" height="0.6"/><rect x="631.5" y="609.2" width="7" height="25.6"/><rect x="691.5" y="593.3" width="7" height="19.3"/><rect x="727.0" y="586.9" width="7" height="10.0"/><rect x="739.0" y="597.4" width="7" height="0.6"/><rect x="763.0" y="582.3" width="7" height="0.6"/><rect x="858.5" y="396.9" width="7" height="8.9"/><rect x="894.0" y="283.3" width="7" height="12.6"/><rect x="953.5" y="269.4" width="7" height="75.2"/><rect x="965.5" y="345.4" width="7" height="7.7"/><rect x="977.5" y="353.3" width="7" height="0.6"/><rect x="1013.5" y="333.0" width="7" height="25.9"/><rect x="1037.0" y="357.7" width="7" height="6.6"/><rect x="1049.0" y="365.0" width="7" height="16.2"/><rect x="1061.0" y="382.0" width="7" height="13.1"/><rect x="1073.0" y="396.0" width="7" height="46.2"/><rect x="1108.5" y="370.7" width="7" height="24.4"/><rect x="1144.5" y="316.2" width="7" height="6.8"/><rect x="1156.5" y="323.8" width="7" height="11.4"/><rect x="1168.5" y="335.8" width="7" height="8.9"/><rect x="1180.5" y="345.5" width="7" height="11.6"/><rect x="1216.0" y="325.5" width="7" height="42.5"/><rect x="1228.0" y="368.5" width="7" height="0.6"/><rect x="1252.0" y="363.2" width="7" height="3.1"/><rect x="1264.0" y="366.7" width="7" height="5.2"/><rect x="1275.5" y="372.8" width="7" height="47.2"/><rect x="1299.5" y="398.9" width="7" height="22.8"/><rect x="1323.5" y="369.8" width="7" height="5.9"/><rect x="1335.5" y="376.4" width="7" height="3.8"/><rect x="1347.0" y="381.0" width="7" height="39.7"/><rect x="1371.0" y="384.9" width="7" height="8.3"/><rect x="1383.0" y="393.8" width="7" height="0.6"/><rect x="1395.0" y="395.0" width="7" height="35.0"/><rect x="1407.0" y="430.4" width="7" height="0.6"/><rect x="1419.0" y="430.7" width="7" height="10.5"/><rect x="1430.5" y="442.0" width="7" height="3.1"/><rect x="1454.5" y="420.7" width="7" height="2.8"/><rect x="1466.5" y="424.5" width="7" height="12.3"/><rect x="1490.5" y="432.1" width="7" height="0.9"/><rect x="1526.0" y="394.2" width="7" height="4.9"/><rect x="1585.5" y="360.5" width="7" height="19.6"/><rect x="1597.5" y="381.1" width="7" height="5.9"/><rect x="1633.5" y="367.8" width="7" height="2.2"/><rect x="1645.5" y="370.8" width="7" height="18.0"/><rect x="1657.5" y="389.5" width="7" height="3.1"/><rect x="1669.0" y="393.5" width="7" height="0.6"/><rect x="1681.0" y="394.1" width="7" height="27.6"/><rect x="1693.0" y="422.6" width="7" height="6.6"/><rect x="1717.0" y="404.8" width="7" height="44.2"/><rect x="1776.5" y="415.8" width="7" height="7.5"/><rect x="1824.0" y="378.0" width="7" height="16.2"/><rect x="1860.0" y="390.6" width="7" height="31.0"/><rect x="1884.0" y="415.8" width="7" height="18.8"/><rect x="1896.0" y="435.6" width="7" height="116.4"/><rect x="1943.5" y="486.4" width="7" height="27.2"/><rect x="1955.5" y="514.6" width="7" height="25.4"/><rect x="1967.5" y="540.9" width="7" height="23.2"/><rect x="1979.0" y="565.0" width="7" height="9.7"/><rect x="2027.0" y="516.4" width="7" height="19.6"/><rect x="2039.0" y="537.0" width="7" height="16.0"/><rect x="2098.5" y="475.0" width="7" height="2.8"/></g>
</g>
<rect x="2432" y="46.4" width="1" height="1316.2" fill="#55514e"/>
<rect x="17.1" y="1315.4" width="2414.9" height="1.2" fill="#7d756e"/>
<rect x="2433" y="1314.6" width="110.19999999999982" height="1.3" fill="#2e2c2b"/>
<g font-family="Liberation Sans, sans-serif" font-size="19.5" fill="#6b6763" stroke="#6b6763" stroke-width="0.12"><text x="2448" y="124.6" textLength="63.5" lengthAdjust="spacing">4.4000</text><text x="2448" y="191.5" textLength="63.5" lengthAdjust="spacing">4.0000</text><text x="2448" y="265.5" textLength="63.5" lengthAdjust="spacing">3.6000</text><text x="2448" y="348.1" textLength="63.5" lengthAdjust="spacing">3.2000</text><text x="2448" y="417.3" textLength="63.5" lengthAdjust="spacing">2.9000</text><text x="2448" y="467.4" textLength="63.5" lengthAdjust="spacing">2.7000</text><text x="2448" y="521.4" textLength="63.5" lengthAdjust="spacing">2.5000</text><text x="2448" y="580.0" textLength="63.5" lengthAdjust="spacing">2.3000</text><text x="2448" y="643.8" textLength="63.5" lengthAdjust="spacing">2.1000</text><text x="2448" y="695.9" textLength="63.5" lengthAdjust="spacing">1.9500</text><text x="2448" y="752.1" textLength="63.5" lengthAdjust="spacing">1.8000</text><text x="2448" y="813.1" textLength="63.5" lengthAdjust="spacing">1.6500</text><text x="2448" y="880.0" textLength="63.5" lengthAdjust="spacing">1.5000</text><text x="2448" y="928.5" textLength="63.5" lengthAdjust="spacing">1.4000</text><text x="2448" y="980.5" textLength="63.5" lengthAdjust="spacing">1.3000</text><text x="2448" y="1036.7" textLength="63.5" lengthAdjust="spacing">1.2000</text><text x="2448" y="1085.1" textLength="63.5" lengthAdjust="spacing">1.1200</text><text x="2448" y="1137.1" textLength="63.5" lengthAdjust="spacing">1.0400</text><text x="2448" y="1186.1" textLength="63.5" lengthAdjust="spacing">0.9700</text><text x="2448" y="1238.6" textLength="63.5" lengthAdjust="spacing">0.9000</text><text x="2448" y="1287.1" textLength="63.5" lengthAdjust="spacing">0.8400</text></g>
<g font-family="Liberation Sans, sans-serif" font-size="19.5" font-weight="bold" fill="#55514e"><text x="335.5" y="1345.8" text-anchor="middle">Jun</text><text x="693.5" y="1345.8" text-anchor="middle">Jul</text><text x="1063.5" y="1345.8" text-anchor="middle">Aug</text><text x="1433.5" y="1345.8" text-anchor="middle">Sep</text><text x="1791.5" y="1345.8" text-anchor="middle">Oct</text><text x="2160.5" y="1345.8" text-anchor="middle">Nov</text></g>
<rect x="2439" y="52.7" width="98" height="43" rx="6" fill="#fff"/>
<text x="2481.3" y="80.5" text-anchor="middle" font-family="Liberation Sans, sans-serif" font-size="20" fill="#131722">USDT</text>
<rect x="2332" y="465" width="101" height="27" rx="3" fill="#d95443"/>
<rect x="2432" y="465" width="106" height="49" rx="3" fill="#d95443"/>
<rect x="2428" y="465" width="8" height="27" fill="#d95443"/>
<g font-family="Liberation Sans, sans-serif" font-size="19.5" fill="#fff"><text x="2339" y="485" textLength="86" lengthAdjust="spacing">XRPUSDT</text><text x="2449.5" y="485" textLength="63.5" lengthAdjust="spacing">2.6316</text><text x="2450.5" y="506" fill="#f7d3cd" textLength="79.5" lengthAdjust="spacing">10:39:19</text></g>
<rect x="2432" y="465" width="1" height="49" fill="rgba(60,20,10,0.35)"/>
<g font-family="Liberation Sans, sans-serif" font-size="20" fill="#4c4e52" stroke-width="0.4"><text x="30.6" y="80" textLength="280.4" lengthAdjust="spacing" stroke="#4c4e52">XRP / TetherUS · 1D · Binance</text><text x="323.3" y="80" textLength="15.7" lengthAdjust="spacing" stroke="#4c4e52">O</text><text x="339.5" y="80" textLength="67.5" lengthAdjust="spacing" fill="#6b221d" stroke="#6b221d">2.6460</text><text x="419.5" y="80" textLength="14.5" lengthAdjust="spacing" stroke="#4c4e52">H</text><text x="434.5" y="80" textLength="65.5" lengthAdjust="spacing" fill="#6b221d" stroke="#6b221d">2.6749</text><text x="512.6" y="80" textLength="10.9" lengthAdjust="spacing" stroke="#4c4e52">L</text><text x="524" y="80" textLength="64.0" lengthAdjust="spacing" fill="#6b221d" stroke="#6b221d">2.6051</text><text x="599.8" y="80" textLength="14.7" lengthAdjust="spacing" stroke="#4c4e52">C</text><text x="615" y="80" textLength="63.3" lengthAdjust="spacing" fill="#6b221d" stroke="#6b221d">2.6316</text><text x="692" y="80" textLength="170.5" lengthAdjust="spacing" fill="#6b221d" stroke="#6b221d">−0.0145 (−0.55%)</text><text x="30.6" y="109" textLength="85.7" lengthAdjust="spacing" stroke="#4c4e52">Vol · XRP</text><text x="129.6" y="109" textLength="70.7" lengthAdjust="spacing" fill="#ef4450" stroke="#ef4450">57.22 M</text><text x="30.6" y="138" textLength="149.3" lengthAdjust="spacing" stroke="#4c4e52">EMA (20, close)</text><text x="193.6" y="138" textLength="66.4" lengthAdjust="spacing" fill="#1f6b2c" stroke="#1f6b2c">2.5564</text><text x="30.6" y="167" textLength="150.4" lengthAdjust="spacing" stroke="#4c4e52">SMA (50, close)</text><text x="194.8" y="167" textLength="61.2" lengthAdjust="spacing" fill="#ef3a47" stroke="#ef3a47">2.7714</text></g>
</svg>
<svg class="logo" width="52" height="27" viewBox="0 0 52 27"><g fill="#dcdcdc"><path d="M0 0h20.5v26H10.5V10H0z"/><circle cx="27.5" cy="5" r="5"/><path d="M39 0h12.5L41 26H28.5z"/></g></svg>
<div class="brand">TradingView</div>
</body></html>
